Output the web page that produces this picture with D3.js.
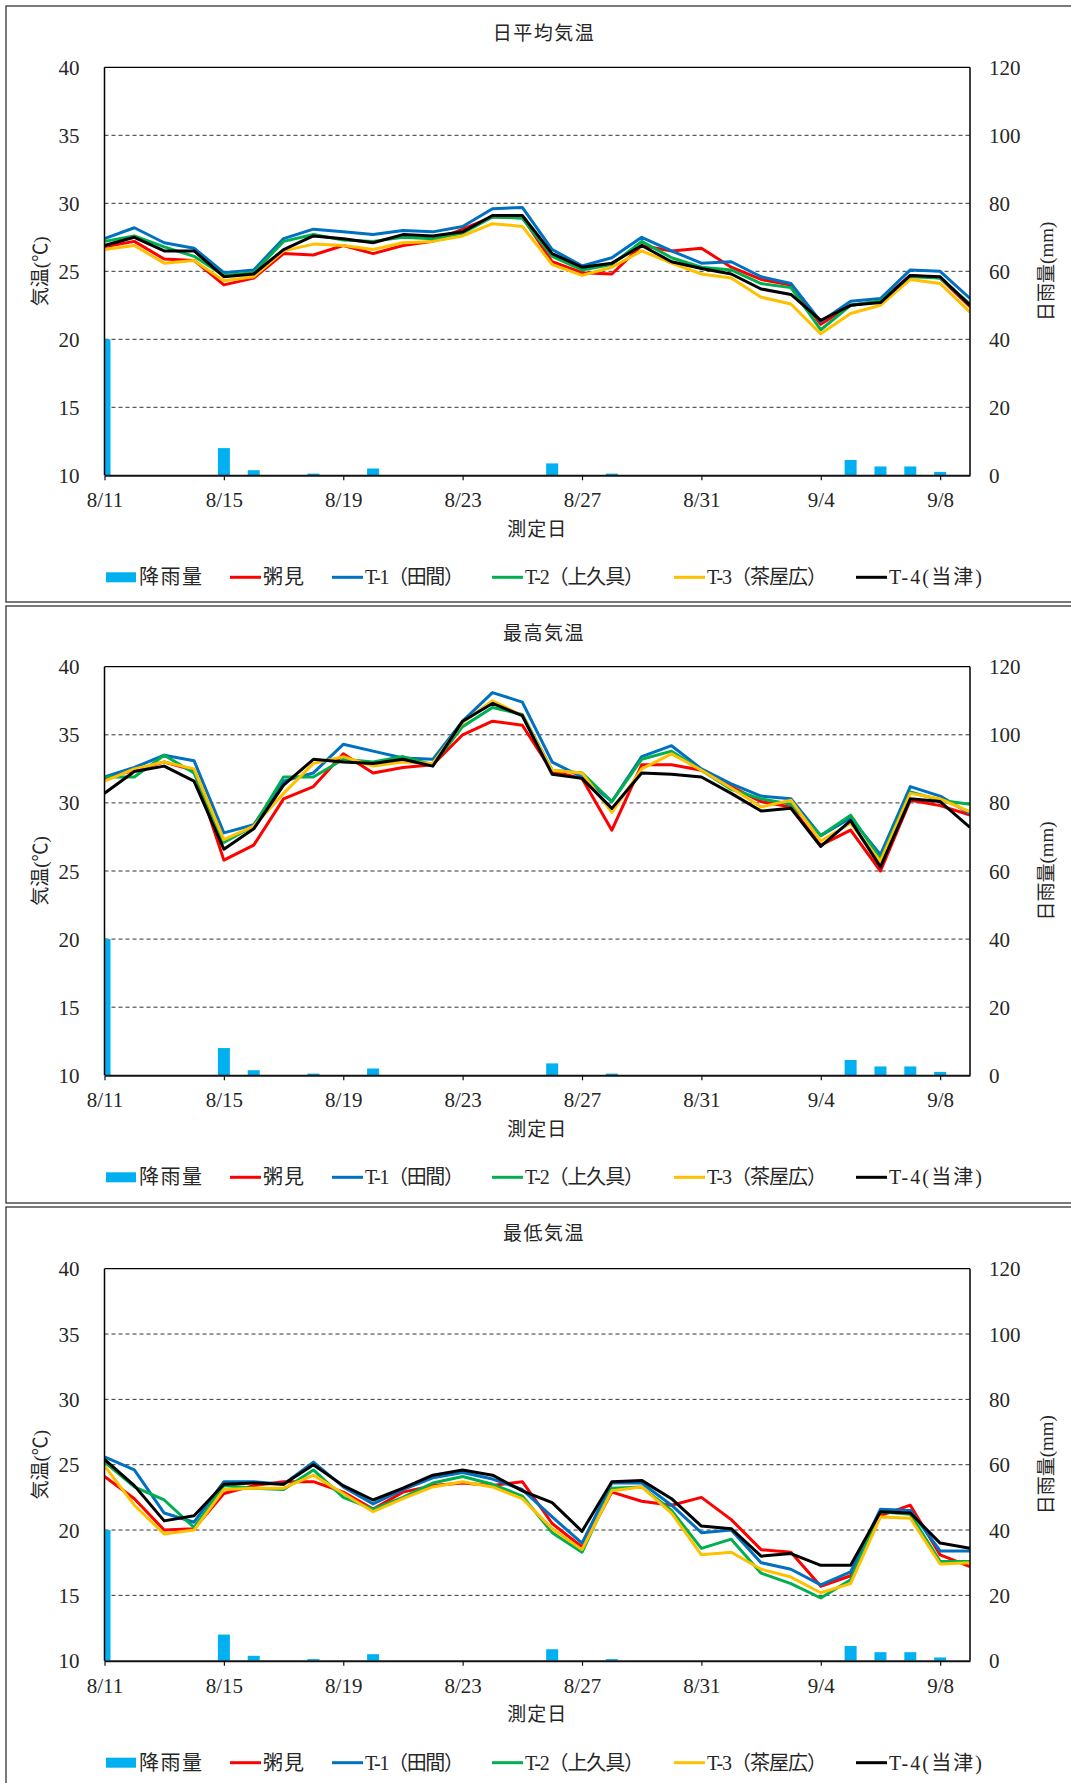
<!DOCTYPE html>
<html><head><meta charset="utf-8">
<script src="https://cdn.jsdelivr.net/npm/d3@7"></script>
<style>body{margin:0;background:#fff}svg{display:block}</style>
</head><body>
<svg id="c" width="1071" height="1783"></svg>
<script>
// ---- data ----
const dates = ["8/11","8/12","8/13","8/14","8/15","8/16","8/17","8/18","8/19","8/20","8/21","8/22","8/23","8/24","8/25","8/26","8/27","8/28","8/29","8/30","8/31","9/1","9/2","9/3","9/4","9/5","9/6","9/7","9/8","9/9"];
const tickLabels = ["8/11","8/15","8/19","8/23","8/27","8/31","9/4","9/8"];
const tempTicks = [10,15,20,25,30,35,40];
const rainTicks = [0,20,40,60,80,100,120];
const rain = [40,0,0,0,8,1.5,0,0.5,0,2,0,0,0,0,0,3.5,0,0.5,0,0,0,0,0,0,0,4.5,2.6,2.6,1,0];
const seriesNames = ["粥見","T-1（田間）","T-2（上久具）","T-3（茶屋広）","T-4(当津)"];
const rainName = "降雨量";
const chartTitles = ["日平均気温","最高気温","最低気温"];

const avgKayumi = [26.8,27.2,25.9,25.8,24.0,24.5,26.3,26.2,26.9,26.3,26.9,27.2,28.1,29.0,29.0,25.7,24.9,24.8,26.9,26.5,26.7,25.3,24.4,24.0,21.1,22.5,22.8,24.7,24.5,22.4];
const avgT1 = [27.4,28.2,27.1,26.7,24.9,25.1,27.4,28.1,27.9,27.7,28.0,27.9,28.3,29.6,29.7,26.6,25.4,26.0,27.5,26.5,25.6,25.7,24.6,24.1,21.3,22.8,23.0,25.1,25.0,23.0];
const avgT2 = [27.2,27.6,26.8,26.1,24.7,24.9,27.2,27.7,27.3,27.2,27.5,27.4,27.8,29.0,28.9,26.1,25.1,25.5,27.2,26.0,25.3,25.1,24.1,23.8,20.7,22.5,22.8,24.6,24.5,22.6];
const avgT3 = [26.6,26.9,25.6,25.8,24.3,24.6,26.5,27.0,26.9,26.6,27.1,27.2,27.6,28.5,28.3,25.5,24.7,25.3,26.5,25.6,24.8,24.5,23.1,22.6,20.4,21.9,22.5,24.4,24.1,22.0];
const avgT4 = [26.9,27.5,26.5,26.5,24.6,24.8,26.6,27.6,27.4,27.1,27.7,27.6,27.9,29.1,29.1,26.3,25.3,25.6,26.9,25.7,25.2,24.8,23.7,23.3,21.4,22.5,22.7,24.7,24.6,22.5];

const maxKayumi = [31.8,32.4,33.0,32.4,25.8,26.9,30.3,31.2,33.6,32.2,32.6,32.8,35.0,36.0,35.7,32.3,31.8,28.0,32.8,32.8,32.4,31.2,30.1,29.7,26.9,28.0,25.0,30.2,29.8,29.1];
const maxT1 = [31.9,32.6,33.5,33.1,27.8,28.4,31.6,32.2,34.3,33.8,33.3,33.2,36.0,38.1,37.4,33.0,31.9,30.1,33.4,34.2,32.5,31.4,30.5,30.3,27.6,28.9,26.2,31.2,30.5,29.2];
const maxT2 = [31.9,31.9,33.5,32.2,27.1,28.3,31.9,31.9,33.2,33.0,33.4,32.8,35.6,37.0,36.5,32.4,32.2,30.1,33.2,33.8,32.4,31.0,30.3,29.9,27.6,29.1,25.9,30.8,30.2,29.9];
const maxT3 = [31.6,32.5,33.0,32.5,27.3,28.3,30.7,32.9,33.4,32.7,33.0,32.9,35.9,37.5,36.4,32.4,32.2,29.3,32.5,33.6,32.4,31.1,29.7,30.2,27.2,28.5,25.7,30.7,30.3,29.35];
const maxT4 = [30.7,32.3,32.7,31.6,26.6,28.1,31.3,33.2,33.0,32.9,33.2,32.7,36.0,37.3,36.4,32.1,31.8,29.6,32.2,32.1,31.9,30.7,29.4,29.6,26.8,28.7,25.3,30.3,30.1,28.2];

const minKayumi = [24.1,22.4,20.0,20.1,22.8,23.4,23.7,23.7,22.9,21.6,22.9,23.4,23.6,23.4,23.7,20.5,18.7,22.9,22.2,21.9,22.5,20.8,18.5,18.3,15.7,16.5,21.1,21.9,18.1,17.2];
const minT1 = [25.6,24.6,21.3,20.6,23.7,23.7,23.5,25.2,23.3,22.0,23.1,24.0,24.4,23.9,23.1,21.0,19.0,23.6,23.6,21.9,19.8,20.0,17.5,17.0,15.8,16.8,21.6,21.5,18.4,18.4];
const minT2 = [25.2,23.3,22.3,20.2,23.4,23.2,23.1,24.6,22.5,21.6,22.5,23.6,24.1,23.5,22.6,19.8,18.3,23.2,23.3,21.5,18.6,19.3,16.7,15.9,14.8,16.2,21.4,21.2,17.6,17.6];
const minT3 = [24.9,21.9,19.7,20.0,23.1,23.2,23.2,24.2,22.8,21.4,22.4,23.3,23.7,23.3,22.4,20.1,18.5,23.0,23.3,21.3,18.1,18.3,17.0,16.4,15.2,15.9,21.0,20.9,17.4,17.5];
const minT4 = [25.4,23.4,20.7,21.1,23.5,23.6,23.5,25.0,23.4,22.3,23.2,24.2,24.6,24.2,23.0,22.1,19.9,23.7,23.8,22.4,20.3,20.1,18.0,18.2,17.3,17.3,21.4,21.3,19.0,18.6];

// ---- styling / layout ----
const colors = ["#FF0000","#0070C0","#00B050","#FFC000","#000000"];
const rainColor = "#00B0F0";
const FONT = "'Liberation Serif','Noto Sans CJK JP',serif";
const TXT = "#262626";
const legendX = [106,230,332,492,674,856];
const legendTextW = [63,41,99,119,120,93];
const panels = [
  {title: chartTitles[0], series:[avgKayumi,avgT1,avgT2,avgT3,avgT4], frameTop:6, frameBottom:602, titleY:33, top:67.3, bottom:475.3},
  {title: chartTitles[1], series:[maxKayumi,maxT1,maxT2,maxT3,maxT4], frameTop:606, frameBottom:1203, titleY:633, top:666.7, bottom:1075.3},
  {title: chartTitles[2], series:[minKayumi,minT1,minT2,minT3,minT4], frameTop:1207, frameBottom:1800, titleY:1233, top:1268.7, bottom:1660.7}
];
const L = 104.5, R = 970;

const svg = d3.select("#c");

panels.forEach((p, pi) => {
  const g = svg.append("g");
  g.append("rect").attr("x",6).attr("y",p.frameTop).attr("width",1090).attr("height",p.frameBottom-p.frameTop)
    .attr("fill","none").attr("stroke","#333").attr("stroke-width",1.3);

  const x = d3.scalePoint().domain(dates).range([L, R]);
  const y = d3.scaleLinear().domain([10,40]).range([p.bottom, p.top]);
  const yr = d3.scaleLinear().domain([0,120]).range([p.bottom, p.top]);

  const clipId = "clip"+pi;
  g.append("clipPath").attr("id",clipId).append("rect")
    .attr("x",L).attr("y",p.top).attr("width",R-L).attr("height",p.bottom-p.top);

  g.append("g").selectAll("line").data([15,20,25,30,35]).join("line")
    .attr("x1",L).attr("x2",R).attr("y1",d=>y(d)).attr("y2",d=>y(d))
    .attr("stroke","#333").attr("stroke-width",1).attr("stroke-dasharray","4,3");

  g.append("g").attr("clip-path",`url(#${clipId})`).selectAll("rect").data(rain).join("rect")
    .attr("x",(d,i)=>x(dates[i])-6).attr("width",12)
    .attr("y",d=>yr(d)).attr("height",d=>p.bottom-yr(d))
    .attr("fill",rainColor);

  const line = d3.line().x((d,i)=>x(dates[i])).y(d=>y(d));
  const lg = g.append("g").attr("clip-path",`url(#${clipId})`);
  p.series.forEach((s, si) => {
    lg.append("path").datum(s).attr("d",line).attr("fill","none")
      .attr("stroke",colors[si]).attr("stroke-width",3).attr("stroke-linejoin","round");
  });

  g.append("line").attr("x1",L).attr("x2",R).attr("y1",p.top).attr("y2",p.top).attr("stroke","#000").attr("stroke-width",1.2);
  g.append("line").attr("x1",L).attr("x2",L).attr("y1",p.top).attr("y2",p.bottom).attr("stroke","#000").attr("stroke-width",1.5);
  g.append("line").attr("x1",R).attr("x2",R).attr("y1",p.top).attr("y2",p.bottom).attr("stroke","#000").attr("stroke-width",1.5);

  const ax = g.append("g").attr("transform",`translate(0,${p.bottom})`)
    .call(d3.axisBottom(x).tickValues(tickLabels).tickSize(5).tickSizeOuter(0));
  ax.select(".domain").attr("stroke","#111").attr("stroke-width",2);
  ax.selectAll(".tick line").attr("stroke","#111").attr("stroke-width",1.2);
  ax.selectAll("text").attr("dy",null).attr("y",25).attr("dominant-baseline","central")
    .attr("font-family",FONT).attr("font-size",21).attr("fill",TXT);

  const ayl = g.append("g").attr("transform",`translate(${L},0)`)
    .call(d3.axisLeft(y).tickValues(tempTicks).tickSize(0).tickPadding(25));
  ayl.select(".domain").remove();
  ayl.selectAll("text").attr("dy",null).attr("dominant-baseline","central")
    .attr("font-family",FONT).attr("font-size",21).attr("fill",TXT);

  const ayr = g.append("g").attr("transform",`translate(${R},0)`)
    .call(d3.axisRight(yr).tickValues(rainTicks).tickSize(0).tickPadding(19));
  ayr.select(".domain").remove();
  ayr.selectAll("text").attr("dy",null).attr("dominant-baseline","central")
    .attr("font-family",FONT).attr("font-size",21).attr("fill",TXT);

  g.append("text").attr("x",544).attr("y",p.titleY).attr("text-anchor","middle").attr("dominant-baseline","central")
    .attr("font-family",FONT).attr("font-size",19).attr("letter-spacing",1.5).attr("fill",TXT).text(p.title);
  const midY = (p.top+p.bottom)/2;
  g.append("text").attr("transform",`translate(40,${midY}) rotate(-90)`).attr("text-anchor","middle").attr("dominant-baseline","central")
    .attr("font-family",FONT).attr("font-size",19).attr("fill",TXT).text("気温(℃)");
  g.append("text").attr("transform",`translate(1046,${midY}) rotate(-90)`).attr("text-anchor","middle").attr("dominant-baseline","central")
    .attr("font-family",FONT).attr("font-size",19).attr("fill",TXT).text("日雨量(mm)");
  g.append("text").attr("x",(L+R)/2).attr("y",p.bottom+54).attr("text-anchor","middle").attr("dominant-baseline","central")
    .attr("font-family",FONT).attr("font-size",19).attr("letter-spacing",1).attr("fill",TXT).text("測定日");

  const ly = p.bottom + 102;
  const items = [{name:rainName, color:rainColor, bar:true}].concat(seriesNames.map((n,i)=>({name:n,color:colors[i],bar:false})));
  items.forEach((it, k) => {
    const ig = g.append("g").attr("transform",`translate(${legendX[k]},0)`);
    if (it.bar) ig.append("rect").attr("x",0).attr("y",ly-5).attr("width",30).attr("height",10).attr("fill",it.color);
    else ig.append("line").attr("x1",0).attr("x2",31).attr("y1",ly).attr("y2",ly).attr("stroke",it.color).attr("stroke-width",3);
    ig.append("text").attr("x",33).attr("y",ly).attr("dominant-baseline","central")
      .attr("font-family",FONT).attr("font-size",20).attr("fill",TXT)
      .attr("textLength",legendTextW[k]).attr("lengthAdjust","spacing").text(it.name);
  });
});
</script>
</body></html>
